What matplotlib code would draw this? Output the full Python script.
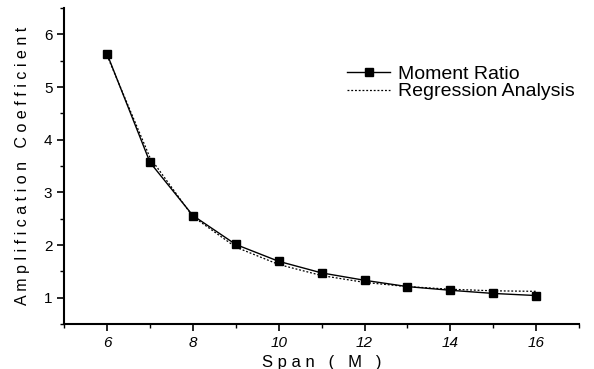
import matplotlib.pyplot as plt
from matplotlib.ticker import MultipleLocator

span = [6, 7, 8, 9, 10, 11, 12, 13, 14, 15, 16]
moment_ratio = [5.63, 3.57, 2.56, 2.01, 1.69, 1.47, 1.33, 1.21, 1.14, 1.08, 1.04]
regression = [5.60, 3.66, 2.54, 1.96, 1.63, 1.42, 1.29, 1.21, 1.16, 1.13, 1.12]

plt.rcParams['font.family'] = ['Liberation Sans', 'DejaVu Sans']

fig = plt.figure(figsize=(5.94, 3.69), dpi=100)
ax = fig.add_axes([0.108, 0.122, 0.867, 0.856])

ax.plot(span, regression, color='black', linestyle=(0, (1.5, 1.5)), linewidth=0.9,
        label='Regression Analysis', zorder=2)
ax.plot(span, moment_ratio, color='black', linewidth=1.0, marker='s', markersize=6,
        label='Moment Ratio', zorder=3)

ax.set_xlim(5, 17)
ax.set_ylim(0.5, 6.5)
ax.xaxis.set_minor_locator(MultipleLocator(1))
ax.yaxis.set_minor_locator(MultipleLocator(0.5))
ax.set_xticks([6, 8, 10, 12, 14, 16])
ax.set_yticks([1, 2, 3, 4, 5, 6])

ax.spines['top'].set_visible(False)
ax.spines['right'].set_visible(False)
ax.spines['left'].set_linewidth(1.5)
ax.spines['bottom'].set_linewidth(1.5)
ax.tick_params(which='major', direction='out', length=5, width=1.2, labelsize=11)
ax.tick_params(which='minor', direction='out', length=3, width=1.0)
for lbl in ax.get_xticklabels():
    lbl.set_style('italic')

ax.set_xlabel('S p a n   (   M   )', fontsize=12, labelpad=4)
ax.set_ylabel('A m p l i f i c a t i o n   C o e f f i c i e n t', fontsize=11.5, labelpad=10)

handles, labels = ax.get_legend_handles_labels()
leg = ax.legend(handles[::-1], labels[::-1], loc='upper right', bbox_to_anchor=(1.025, 0.875),
                frameon=False, fontsize=14, handlelength=2.2, handletextpad=0.4,
                labelspacing=0.0)

fig.savefig('out.png', dpi=100)
